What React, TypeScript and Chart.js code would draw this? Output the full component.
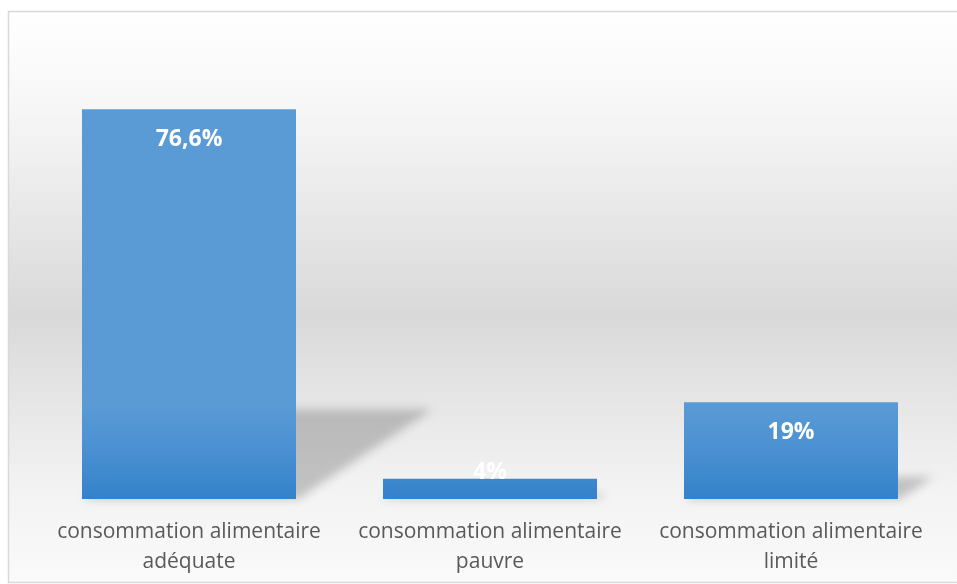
import React, { useEffect, useRef } from "react";
import { Chart, registerables } from "chart.js";

Chart.register(...registerables);

const categories: string[][] = [
  ["consommation alimentaire", "adéquate"],
  ["consommation alimentaire", "pauvre"],
  ["consommation alimentaire", "limité"],
];
const values: number[] = [76.6, 4, 19];
const valueLabels: string[] = ["76,6%", "4%", "19%"];

const backgroundPlugin = {
  id: "bgPlugin",
  beforeDraw(chart: any) {
    const { ctx, width } = chart;
    ctx.save();
    const top = 11;
    const left = 8;
    const bottom = 582;
    const g = ctx.createLinearGradient(0, top, 0, bottom);
    g.addColorStop(0, "#ffffff");
    g.addColorStop(0.18, "#f6f6f6");
    g.addColorStop(0.53, "#d9d9d9");
    g.addColorStop(0.84, "#f3f3f3");
    g.addColorStop(1, "#fafafa");
    ctx.fillStyle = g;
    ctx.fillRect(left, top, width + 10 - left, bottom - top);
    ctx.strokeStyle = "#d9d9d9";
    ctx.lineWidth = 1.5;
    ctx.strokeRect(left + 0.5, top + 0.5, width + 20, bottom - top);
    ctx.restore();
  },
  beforeDatasetsDraw(chart: any) {
    const { ctx } = chart;
    const meta = chart.getDatasetMeta(0);
    ctx.save();
    ctx.filter = "blur(5px)";
    ctx.fillStyle = "rgba(0,0,0,0.2)";
    meta.data.forEach((bar: any) => {
      const p = bar.getProps(["x", "y", "base", "width"], true);
      const x0 = p.x - p.width / 2;
      const x1 = p.x + p.width / 2;
      const H = p.base - p.y;
      const h = H * 0.23;
      const s = h * 1.5;
      ctx.beginPath();
      ctx.moveTo(x0, p.base);
      ctx.lineTo(x1 + 2, p.base);
      ctx.lineTo(x1 + 2 + s, p.base - h);
      ctx.lineTo(x0 + s, p.base - h);
      ctx.closePath();
      ctx.fill();
    });
    ctx.restore();
    meta.data.forEach((bar: any) => {
      const p = bar.getProps(["y", "base"], true);
      const g = ctx.createLinearGradient(0, p.y, 0, p.base);
      g.addColorStop(0, "#5b9bd5");
      g.addColorStop(0.45, "#4c91d2");
      g.addColorStop(1, "#3482cb");
      bar.options.backgroundColor = g;
    });
  },
  afterDatasetsDraw(chart: any) {
    const { ctx } = chart;
    const meta = chart.getDatasetMeta(0);
    ctx.save();
    ctx.fillStyle = "#ffffff";
    ctx.font = "bold 23px 'Open Sans'";
    ctx.textAlign = "center";
    ctx.textBaseline = "middle";
    meta.data.forEach((bar: any, i: number) => {
      const p = bar.getProps(["x", "y", "base"], true);
      const y = Math.min(p.y + 30, p.base - 27);
      ctx.fillText(valueLabels[i], p.x, y);
    });
    ctx.restore();
  },
};

export default function App() {
  const ref = useRef<HTMLCanvasElement | null>(null);
  useEffect(() => {
    if (!ref.current) return;
    const chart = new Chart(ref.current, {
      type: "bar",
      data: {
        labels: categories,
        datasets: [
          {
            data: values,
            backgroundColor: "#4a90d2",
            borderWidth: 0,
            barPercentage: 0.711,
            categoryPercentage: 1,
          },
        ],
      },
      options: {
        animation: false,
        responsive: false,
        maintainAspectRatio: false,
        layout: { padding: { left: 38.5, right: 15.5, top: 92, bottom: -11 } },
        plugins: { legend: { display: false }, tooltip: { enabled: false }, title: { display: false } },
        scales: {
          x: {
            grid: { display: false, drawTicks: false },
            border: { display: false },
            ticks: {
              color: "#595959",
              font: { family: "'Open Sans'", size: 21, lineHeight: "30px" },
              padding: 18,
              maxRotation: 0,
              autoSkip: false,
            },
          },
          y: { display: false, min: 0, max: 80 },
        },
      },
      plugins: [backgroundPlugin],
    });
    return () => chart.destroy();
  }, []);
  return (
    <div style={{ position: "fixed", left: 0, top: 0, width: 957, height: 584, overflow: "hidden" }}>
      <canvas ref={ref} width={957} height={584} style={{ display: "block" }} />
    </div>
  );
}
